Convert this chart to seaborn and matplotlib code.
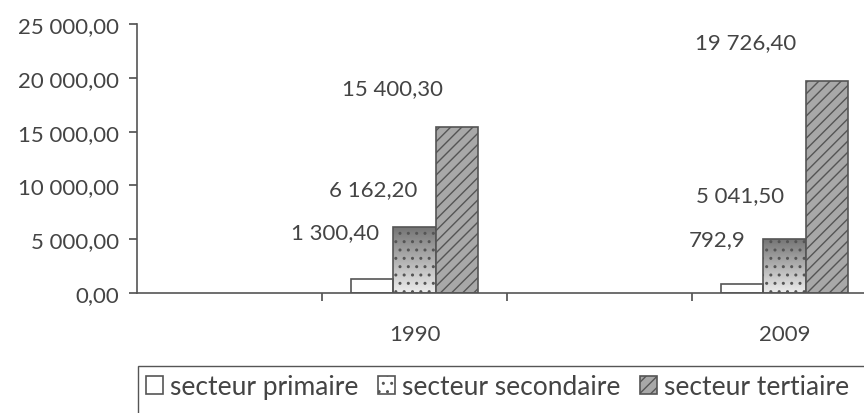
"""
Secteurs d'activité 1990 / 2009 — barres groupées (recréation d'un graphique Excel scanné).
"""

import matplotlib
matplotlib.use("Agg")
import matplotlib.pyplot as plt
import matplotlib.ticker as mticker
from matplotlib.patches import Rectangle
import numpy as np
import pandas as pd
import seaborn as sns

# ── Données ───────────────────────────────────────────────────────────────────
annees = ["1990", "2009"]
secteurs = ["secteur primaire", "secteur secondaire", "secteur tertiaire"]
primaire = [1300.40, 792.9]
secondaire = [6162.20, 5041.50]
tertiaire = [15400.30, 19726.40]
etiquettes = {
    "secteur primaire": ["1 300,40", "792,9"],
    "secteur secondaire": ["6 162,20", "5 041,50"],
    "secteur tertiaire": ["15 400,30", "19 726,40"],
}
# catégories vides intercalées, comme dans le classeur d'origine
categories = ["vide_1", "1990", "vide_2", "2009"]

# ── Style ─────────────────────────────────────────────────────────────────────
sns.set_theme(style="white")
plt.rcParams["font.family"] = ["Lato", "DejaVu Sans"]
GRIS = "#555555"
TXT = "#444444"

df = pd.DataFrame({
    "annee": annees * 3,
    "secteur": [s for s in secteurs for _ in annees],
    "valeur": primaire + secondaire + tertiaire,
})

fig = plt.figure(figsize=(8.64, 4.14), dpi=100)
ax = fig.add_axes([137 / 864, 120 / 414, 740 / 864, 269 / 414])

sns.barplot(
    data=df, x="annee", y="valeur", hue="secteur",
    order=categories, hue_order=secteurs,
    width=0.69, ax=ax, legend=False, errorbar=None,
    palette=["white", "#b5b5b5", "#a3a3a3"],
)

styles = [
    dict(facecolor="white", hatch=None),
    dict(facecolor="#bdbdbd", hatch=".."),
    dict(facecolor="#a8a8a8", hatch="///"),
]
for cont, st in zip(ax.containers, styles):
    for p in cont.patches:
        p.set_facecolor(st["facecolor"])
        p.set_edgecolor(GRIS)
        p.set_linewidth(1.2)
        if st["hatch"]:
            p.set_hatch(st["hatch"])

# dégradé vertical sur les barres du secteur secondaire
grad = np.linspace(0.93, 0.45, 256).reshape(-1, 1)
for p in ax.containers[1].patches:
    x0, y0 = p.get_x(), p.get_y()
    im = ax.imshow(grad, cmap="gray", vmin=0, vmax=1, aspect="auto",
                   extent=[x0, x0 + p.get_width(), y0, y0 + p.get_height()],
                   origin="lower", zorder=p.get_zorder() - 0.1)
    im.set_clip_path(p)
    p.set_facecolor("none")

# étiquettes de données (déplacées à la main dans l'original)
decalages = {
    "secteur primaire": [(-37, 47), (-25, 45)],
    "secteur secondaire": [(-41, 38), (-44, 44)],
    "secteur tertiaire": [(-65, 39), (-81, 39)],
}
for cont, sect in zip(ax.containers, secteurs):
    bars = [p for p in cont.patches if p.get_height() > 0]
    for p, lab, (dx, dy) in zip(bars, etiquettes[sect], decalages[sect]):
        ax.annotate(lab, (p.get_x() + p.get_width() / 2, p.get_height()),
                    xytext=(dx, dy), textcoords="offset pixels",
                    ha="center", va="center", fontsize=16, color=TXT)

# ── Axes ──────────────────────────────────────────────────────────────────────
ax.set_xlim(-0.5, 3.5)
ax.set_ylim(0, 25000)
ax.yaxis.set_major_locator(mticker.MultipleLocator(5000))
ax.yaxis.set_major_formatter(mticker.FuncFormatter(
    lambda v, _: f"{v:,.2f}".replace(",", " ").replace(".", ",")))
ax.set_xticks([0.5, 1.5, 2.5, 3.5])
ax.set_xticklabels([])
ax.set_xticks([1, 3], minor=True)
ax.set_xticklabels(annees, minor=True)
ax.tick_params(axis="x", which="major", length=6, color=GRIS, direction="out", bottom=True)
ax.tick_params(axis="x", which="minor", length=0, pad=22, labelsize=16, labelcolor=TXT)
ax.tick_params(axis="y", length=6, color=GRIS, direction="out", left=True,
               labelsize=16, labelcolor=TXT, pad=7)
ax.set_xlabel("")
ax.set_ylabel("")
for s in ("top", "right"):
    ax.spines[s].set_visible(False)
for s in ("left", "bottom"):
    ax.spines[s].set_color(GRIS)
    ax.spines[s].set_linewidth(1.2)

# ── Légende ───────────────────────────────────────────────────────────────────
handles = [c.patches[1] for c in ax.containers]
leg = fig.legend(
    handles, secteurs, loc="center left", bbox_to_anchor=(146 / 864, 26 / 414),
    ncol=3, frameon=False, fontsize=19,
    handlelength=0.65, handleheight=0.65, handletextpad=0.25, columnspacing=0.75,
    borderpad=0.0, borderaxespad=0.0, labelcolor=TXT,
)
# cadre de la légende, plus large que la figure comme dans le scan
fig.add_artist(Rectangle((138 / 864, -0.05), 730 / 864, (47 / 414) + 0.05,
                         transform=fig.transFigure, fill=False,
                         edgecolor=GRIS, linewidth=1.0))

fig.savefig("out.png", dpi=100)
